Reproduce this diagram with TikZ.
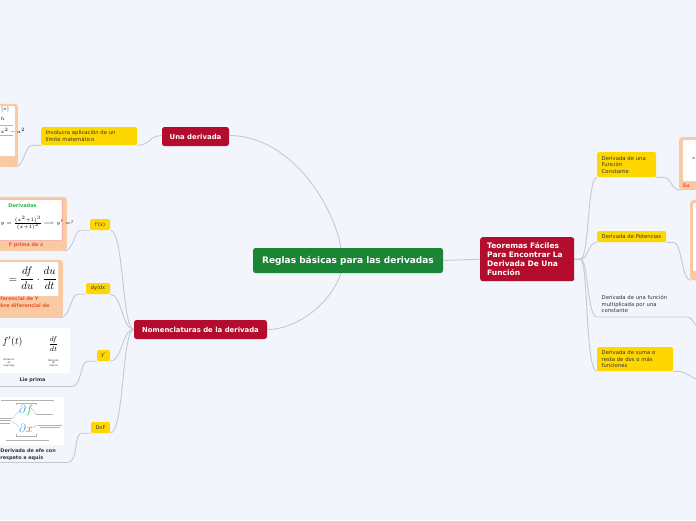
\documentclass[tikz,border=0pt]{standalone}
\usepackage[no-math]{fontspec}
\setmainfont{DejaVu Sans}
\usepackage{amsmath}
\usetikzlibrary{calc}
\definecolor{cbg}{HTML}{F3F5FD}
\definecolor{cgreen}{HTML}{1B8536}
\definecolor{cred}{HTML}{B30C2D}
\definecolor{cyellow}{HTML}{FFD700}
\definecolor{cline}{HTML}{C6C9D2}
\definecolor{cpeach}{HTML}{F8C9A2}
\definecolor{ctext}{HTML}{333333}
\definecolor{ccap}{HTML}{EA5428}
\definecolor{cpink}{HTML}{F2A0A8}
\definecolor{dgreen}{HTML}{2BB24C}
\definecolor{dblue}{HTML}{3D9BE9}
\definecolor{dred}{HTML}{E23B3B}
\definecolor{farrow}{HTML}{2255AA}
\pgfdeclarelayer{back}
\pgfdeclarelayer{links}
\pgfsetlayers{back,links,main}
\begin{document}
\begin{tikzpicture}[x=1pt,y=-1pt,
  conn/.style={draw=cline, line width=0.9pt},
  mainbox/.style={fill=cgreen, rounded corners=2.5, text=white, inner sep=0,
    font=\bfseries\fontsize{9}{10}\selectfont},
  redbox/.style={fill=cred, rounded corners=2.5, text=white, inner sep=0,
    font=\bfseries\fontsize{6.9}{9}\selectfont},
  ybox/.style={fill=cyellow, rounded corners=1.5, text=ctext, anchor=north west,
    align=left, inner xsep=4.5, inner ysep=0, font=\fontsize{5.3}{6.6}\selectfont},
  ytag/.style={fill=cyellow, rounded corners=1.5, text=ctext, inner sep=0,
    font=\fontsize{5.1}{6}\selectfont},
  plaintext/.style={text=ctext, anchor=north west, align=left, inner xsep=4.5,
    inner ysep=0, font=\fontsize{5.3}{6.6}\selectfont},
  peach/.style={fill=cpeach, rounded corners=3, inner sep=0},
  whitebox/.style={fill=white, rounded corners=1, inner sep=0},
  captext/.style={text=ccap, inner sep=0, font=\bfseries\fontsize{4.9}{7}\selectfont},
  darkcap/.style={text=ctext, inner sep=0, font=\bfseries\fontsize{4.9}{7}\selectfont},
  tinynote/.style={text=ctext, align=center, inner sep=0, font=\fontsize{2.4}{2.9}\selectfont},
  faint/.style={draw=gray!60, line width=0.4pt}]
\begin{pgfonlayer}{back}
\fill[cbg] (0,0) rectangle (696,520);
\end{pgfonlayer}
\useasboundingbox (0,0) rectangle (696,520);

% ---------- main nodes ----------
\node[mainbox, minimum width=190, minimum height=25] (center) at (348,260.5) {Reglas básicas para las derivadas};
\node[redbox, minimum width=67, minimum height=19] (una) at (195.5,136.5) {Una derivada};
\node[redbox, minimum width=133, minimum height=19] (nom) at (200.5,329.5) {Nomenclaturas de la derivada};
\node[redbox, anchor=north west, align=left, text width=80, inner xsep=7, minimum height=44,
  font=\bfseries\fontsize{7.5}{8.8}\selectfont] (teo) at (480,237) {Teoremas Fáciles\\Para Encontrar La\\Derivada De Una\\Función};

% ---------- yellow nodes ----------
\node[ybox, text width=87, minimum height=18] (inv) at (41,127) {Involucra aplicación de un\\límite matemático};
\node[ytag, minimum width=20, minimum height=11] (fx) at (100,224.5) {f'(x)};
\node[ytag, minimum width=24, minimum height=11] (dy) at (98,288.5) {dy/dx};
\node[ytag, minimum width=13, minimum height=11] (yp) at (103.5,355.5) {y'};
\node[ytag, minimum width=19, minimum height=11] (dxf) at (100.5,427.5) {DxF};

\node[ybox, text width=50, minimum height=25] (const) at (597,152) {Derivada de una\\Función\\Constante};
\node[ybox, text width=64, inner xsep=2.5, minimum height=11] (pot) at (597,231) {\hspace*{2pt}Derivada de Potencias};
\node[plaintext, text width=88] (multi) at (597,295) {Derivada de una función\\multiplicada por una\\constante};
\coordinate (multiL) at (597,317);
\coordinate (multiR) at (688,317);
\node[ybox, text width=67, minimum height=24] (suma) at (597,347) {Derivada de suma o\\resta de dos o más\\funciones};

% ---------- image: una derivada ----------
\node[peach, anchor=south east, minimum width=80, minimum height=63] (imgU) at (18,167) {};
\node[whitebox, anchor=north east, minimum width=76, minimum height=50] (wU) at (15,106) {};
\node[inner sep=0, anchor=west, font=\fontsize{4}{4}\selectfont] at (1,109) {$[x]$};
\node[inner sep=0, anchor=west, font=\fontsize{4}{4}\selectfont] at (0.5,119) {$h$};
\draw[faint] (-5,125) -- (13,125);
\node[inner sep=0, anchor=west, font=\fontsize{3.6}{4}\selectfont] at (0.5,131) {$x^2-a^2$};
\draw[faint] (-5,135) -- (13,135);

% ---------- image: f'(x) ----------
\node[peach, anchor=south east, minimum width=130, minimum height=54] (imgA) at (67,251) {};
\node[whitebox, draw=cpink, line width=0.6pt, anchor=north east, minimum width=122, minimum height=41] (wA) at (62.5,199) {};
\node[inner sep=0, text=dgreen, font=\bfseries\fontsize{5}{5}\selectfont] at (22.5,205.5) {Derivadas};
\node[inner sep=0, anchor=west, font=\fontsize{5.4}{6}\selectfont] at (0.5,223) {$y=\frac{(x^2+1)^3}{(x+1)^2}\;{\color{farrow}\Longrightarrow}\;y'=?$};
\node[captext] at (26,245.5) {F prima de x};

% ---------- image: dy/dx ----------
\node[peach, anchor=south east, minimum width=130, minimum height=58] (imgB) at (63,318) {};
\node[whitebox, anchor=north east, minimum width=120, minimum height=34] (wB) at (58.5,262) {};
\node[inner sep=0, anchor=east, font=\fontsize{11}{12}\selectfont] at (57,278.5) {$=\dfrac{df}{du}\cdot\dfrac{du}{dt}$};
\node[captext, anchor=west] at (0.3,299) {ferencial de Y};
\node[captext, anchor=west] at (0.3,306) {bre diferencial de};

% ---------- image: y' ----------
\node[whitebox, anchor=north east, minimum width=120, minimum height=45] (wC) at (70,328) {};
\node[inner sep=0, font=\fontsize{10}{10}\selectfont] at (12.5,342) {$f'(t)$};
\node[inner sep=0, font=\fontsize{7.5}{8}\selectfont] at (53.5,344) {$\dfrac{df}{dt}$};
\node[tinynote] at (9,363) {Notación\\de\\Lagrange};
\node[tinynote] at (53.5,363) {Notación\\de\\Leibniz};
\node[darkcap] at (32.5,380) {Lie prima};

% ---------- image: DxF ----------
\node[whitebox, anchor=north east, minimum width=120, minimum height=48] (wD) at (64,397) {};
\draw[faint] (1,400) -- (54,400);
\draw[faint] (16,405) -- (16,403) -- (36,403) -- (36,405);
\draw[faint] (16,434) -- (16,436) -- (36,436) -- (36,434);
\node[inner sep=0, font=\fontsize{12}{12}\selectfont] at (26,410) {${\color{dblue}\partial}{\color{dgreen}f}$};
\node[inner sep=0, font=\fontsize{12}{12}\selectfont] at (26,428) {${\color{dblue}\partial}{\color{dred}x}$};
\draw[faint] (0,418) -- (12,418) (0,420.5) -- (11,420.5) (0,423) -- (10,423);
\draw[draw=dblue!60, line width=0.3pt] (12,419) -- (19,411) (12,421) -- (19,427);
\draw[draw=dgreen!70, line width=0.3pt] (31,408) -- (36,414);
\draw[faint] (36,414) -- (53,414);
\draw[draw=dred!70, line width=0.3pt] (33,428) -- (37,425);
\draw[faint] (38,425) -- (62,425) (40,427.5) -- (60,427.5);
\draw[faint] (6,440) -- (49,440);
\node[darkcap, anchor=west] at (0.3,450.5) {Derivada de efe con};
\node[darkcap, anchor=west] at (0.3,458) {respeto a equis};

% ---------- right images ----------
\node[peach, anchor=north west, minimum width=60, minimum height=53] (imgR1) at (679,137) {};
\node[whitebox, anchor=north west, minimum width=50, minimum height=41] (wR1) at (683,140) {};
\node[inner sep=0, text=ctext, font=\fontsize{4}{4}\selectfont] at (693.5,158) {a};
\node[captext, anchor=west] at (682.5,186) {Su};
\node[peach, anchor=north west, minimum width=60, minimum height=80] (imgR2) at (690,200) {};
\node[whitebox, anchor=north west, minimum width=50, minimum height=68] (wR2) at (693,203) {};

% ---------- connectors ----------
\begin{pgfonlayer}{links}
\draw[conn] ([yshift=1]una.east) .. controls +(60,0) and +(-8,-45) .. ([xshift=-7]center.north);
\draw[conn] ([xshift=-7]center.south) .. controls +(-10,30) and +(30,0) .. (nom.east);
\draw[conn] (center.east) -- (teo.west);

\draw[conn] ([yshift=1]una.west) .. controls +(-12,0) and +(12,0) .. (inv.south east);
\draw[conn] (inv.south west) -- +(-9,0) .. controls +(-7,0) and +(9,0) .. ([xshift=-3]imgU.south east);

\draw[conn] (nom.west) .. controls +(-12,0) and +(14,0) .. (fx.south east);
\draw[conn] (nom.west) .. controls +(-12,0) and +(12,0) .. (dy.south east);
\draw[conn] (nom.west) .. controls +(-12,0) and +(12,0) .. (yp.south east);
\draw[conn] (nom.west) .. controls +(-12,0) and +(14,0) .. (dxf.south east);

\draw[conn] (fx.south west) -- +(-9,0) .. controls +(-7,0) and +(10,0) .. ([xshift=-3]imgA.south east);
\draw[conn] (dy.south west) -- +(-8,0) .. controls +(-7,0) and +(10,0) .. ([xshift=-3]imgB.south east);
\coordinate (capC) at (-5,386.5);
\draw[conn] (yp.south west) -- +(-9,0) .. controls +(-8,0) and +(10,0) .. (72,386.5) -- (capC);
\coordinate (capD) at (-5,462.5);
\draw[conn] (dxf.south west) -- +(-9,0) .. controls +(-8,0) and +(10,0) .. (68,462.5) -- (capD);

\draw[conn] (teo.east) -- +(6,0) .. controls +(9,0) and +(-10,0) .. (const.south west);
\draw[conn] (teo.east) -- +(6,0) .. controls +(8,0) and +(-9,0) .. (pot.south west);
\draw[conn] (teo.east) -- +(6,0) .. controls +(8,0) and +(-10,0) .. (multiL) -- (multiR);
\draw[conn] (teo.east) -- +(6,0) .. controls +(8,0) and +(-12,0) .. (suma.south west);

\draw[conn] (const.south east) -- +(7,0) .. controls +(8,0) and +(-10,0) .. ([xshift=2]imgR1.south west);
\draw[conn] (pot.south east) -- +(7,0) .. controls +(9,0) and +(-10,0) .. ([xshift=1]imgR2.south west);
\coordinate (multiEnd) at (700,328);
\draw[conn] (multiR) .. controls +(5,0) and +(-5,0) .. (multiEnd);
\coordinate (sumaEnd) at (700,379.5);
\draw[conn] (suma.south east) -- +(6,0) .. controls +(7,0) and +(-8,0) .. (sumaEnd);
\end{pgfonlayer}
\end{tikzpicture}
\end{document}
